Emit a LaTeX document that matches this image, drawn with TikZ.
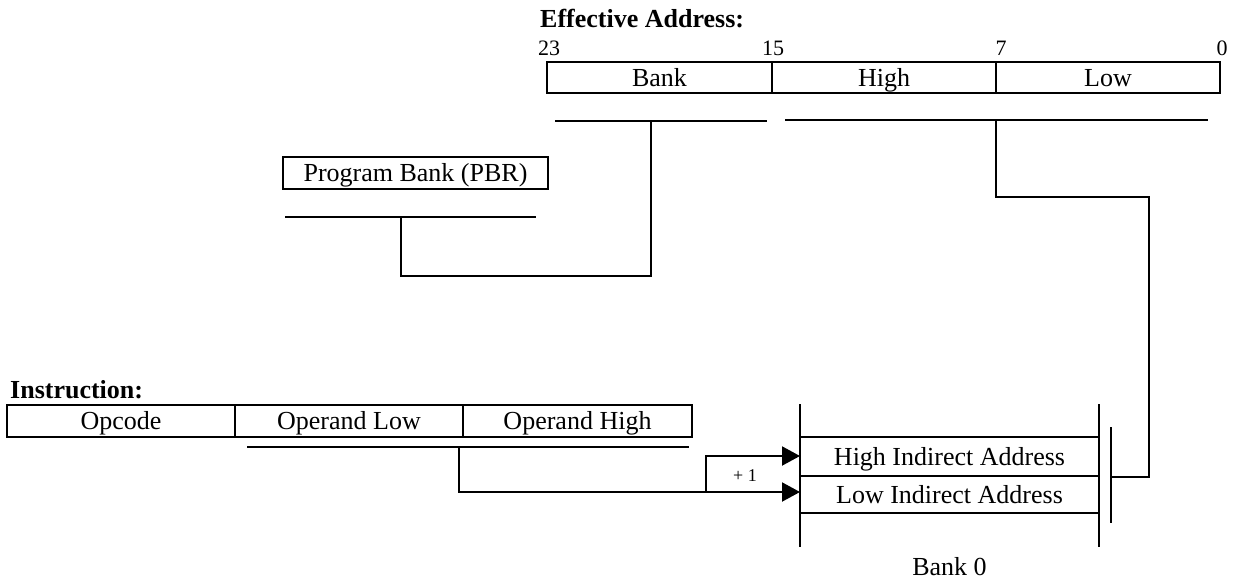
\documentclass[tikz,border=0pt]{standalone}
\usepackage{fontspec}
\setmainfont{Liberation Serif}
\usetikzlibrary{arrows.meta}
\begin{document}
\begin{tikzpicture}[x=1pt,y=-1pt,
  cell/.style={draw,line width=2.2pt,minimum height=31pt,inner sep=0pt,
    text height=20pt,text depth=3pt,font=\fontsize{26}{28}\selectfont},
  rowtext/.style={inner sep=0pt,text height=20pt,text depth=3pt,font=\fontsize{26}{28}\selectfont},
  lbl/.style={inner sep=0pt,font=\fontsize{26}{28}\selectfont},
  ttl/.style={inner sep=0pt,font=\fontsize{26}{28}\selectfont\bfseries,anchor=base west},
  num/.style={inner sep=0pt,font=\fontsize{22}{24}\selectfont,anchor=base},
  wire/.style={line width=2pt},
  arr/.style={wire,-{Triangle[length=18pt,width=19pt]}}
]
\useasboundingbox (0,0) rectangle (1239,581);

% ---------- Effective address ----------
\node[ttl] (eatitle) at (540,27) {Effective Address:};
\node[num,anchor=base west] (n23) at (538,55) {23};
\node[num] (n15) at (773,55) {15};
\node[num] (n7) at (1001,55) {7};
\node[num] (n0) at (1222,55) {0};
\node[cell,minimum width=225pt] (bank) at (659.5,77.5) {Bank};
\node[cell,minimum width=224pt] (high) at (884,77.5) {High};
\node[cell,minimum width=224pt] (low) at (1108,77.5) {Low};

% bus bars under the effective address
\coordinate (bbL) at (555,121);
\coordinate (bbR) at (767,121);
\coordinate (bbT) at (651,121);
\draw[wire] (bbL) -- (bbR);
\coordinate (hbL) at (785,120);
\coordinate (hbR) at (1208,120);
\coordinate (hbT) at (996,120);
\draw[wire] (hbL) -- (hbR);

% ---------- Program bank ----------
\node[cell,minimum width=265pt,minimum height=32pt] (pbr) at (415.5,173) {Program Bank (PBR)};
\coordinate (pbL) at (285,217);
\coordinate (pbR) at (536,217);
\coordinate (pbT) at (401,217);
\draw[wire] (pbL) -- (pbR);
\draw[wire] (bbT) -- ++(0,155) -| (pbT);

% ---------- Instruction ----------
\node[ttl] (insttitle) at (10,398) {Instruction:};
\node[cell,minimum width=228pt,minimum height=32pt] (opc) at (121,421) {Opcode};
\node[cell,minimum width=228pt,minimum height=32pt] (opl) at (349,421) {Operand Low};
\node[cell,minimum width=229pt,minimum height=32pt] (oph) at (577.5,421) {Operand High};
\coordinate (ibL) at (247,447);
\coordinate (ibR) at (689,447);
\coordinate (ibT) at (459,447);
\draw[wire] (ibL) -- (ibR);

% ---------- Bank 0 memory ----------
\draw[wire] (800,404) -- (800,547);
\draw[wire] (1099,404) -- (1099,547);
\draw[wire] (800,437) -- (1099,437);
\draw[wire] (800,476) -- (1099,476);
\draw[wire] (800,513) -- (1099,513);
\node[rowtext] (hia) at (949.5,456.5) {High Indirect Address};
\node[rowtext] (lia) at (949.5,494.5) {Low Indirect Address};
\node[lbl] (bank0) at (949.5,567) {Bank 0};
\coordinate (busT) at (1111,427);
\coordinate (busB) at (1111,523);
\coordinate (bus) at (1111,477);
\draw[wire] (busT) -- (busB);

% ---------- connectors ----------
\coordinate (hiIn) at (800,456);
\coordinate (loIn) at (800,492);
\coordinate (split) at (706,492);
\draw[arr] (ibT) |- (loIn);
\draw[arr] (split) |- (hiIn);
\node[inner sep=0pt,font=\fontsize{18}{20}\selectfont] (plus) at (745,476) {+ 1};
\draw[wire] (hbT) |- (1149,197) |- (bus);
\end{tikzpicture}
\end{document}
